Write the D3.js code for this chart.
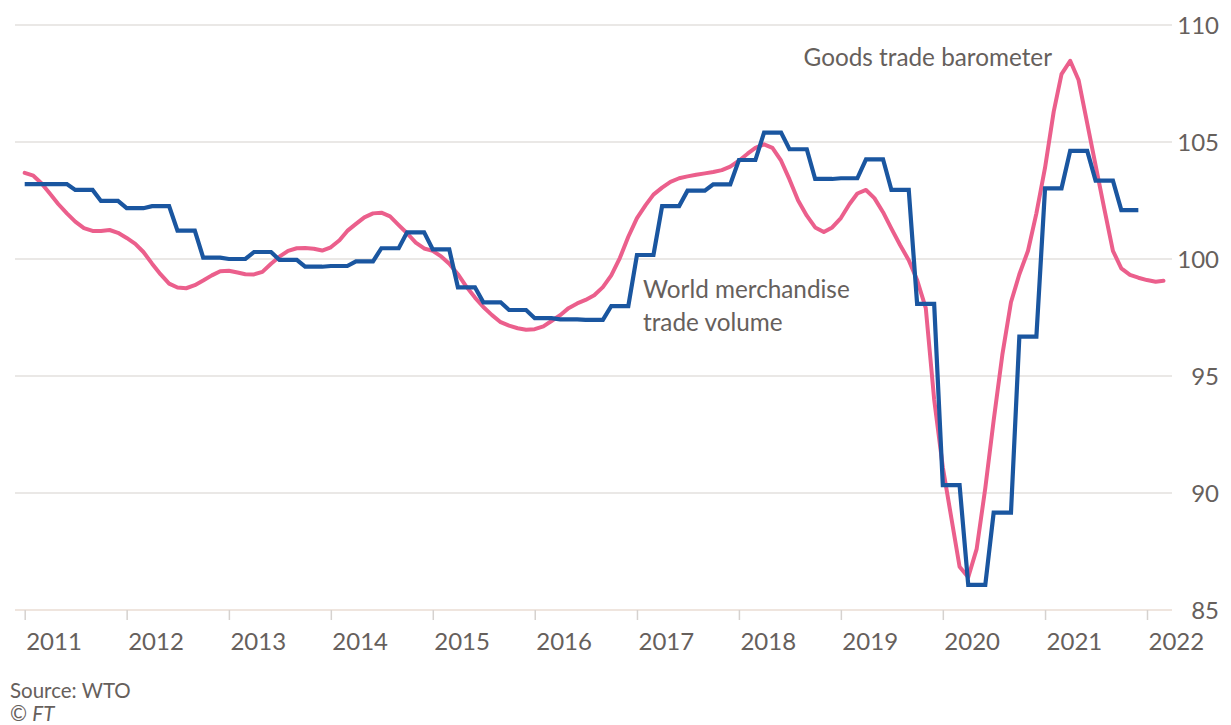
<!DOCTYPE html>
<html>
<head>
<meta charset="utf-8">
<script src="https://cdn.jsdelivr.net/npm/d3@7"></script>
<style>
  body { margin: 0; background: #fff; }
  text { font-family: Lato, "Open Sans", sans-serif; fill: #66605c; }
</style>
</head>
<body>
<script>
const width = 1231;
const height = 725;

// Goods trade barometer, monthly from Jan 2011 to Mar 2022
const barometer = [
  103.68, 103.56, 103.25, 102.8, 102.35, 101.95, 101.6, 101.32, 101.2, 101.2, 101.24, 101.12,
  100.9, 100.65, 100.3, 99.8, 99.35, 98.95, 98.78, 98.75, 98.88, 99.08, 99.3, 99.48,
  99.5, 99.42, 99.35, 99.34, 99.45, 99.8, 100.1, 100.35, 100.46, 100.47, 100.44, 100.36,
  100.5, 100.8, 101.2, 101.5, 101.78, 101.95, 101.98, 101.82, 101.45, 101.1, 100.7, 100.45,
  100.35, 100.1, 99.8, 99.35, 98.82, 98.35, 97.95, 97.6, 97.3, 97.15, 97.04, 96.98,
  97.0, 97.12, 97.35, 97.6, 97.9, 98.1, 98.25, 98.45, 98.8, 99.3, 100.05, 100.95,
  101.75, 102.3, 102.75, 103.05, 103.3, 103.45, 103.53, 103.6, 103.66, 103.72, 103.8, 103.95,
  104.2, 104.5, 104.75, 104.9, 104.75, 104.2, 103.4, 102.5, 101.85, 101.35, 101.15, 101.35,
  101.75, 102.35, 102.8, 102.95, 102.6, 102.0, 101.3, 100.6, 99.95, 99.1, 97.9, 94.0,
  91.1, 88.9, 86.85, 86.4, 87.6, 90.2, 93.1, 95.9, 98.15, 99.35, 100.35, 101.95,
  103.9, 106.3, 107.9, 108.47, 107.65, 105.8, 104.0, 102.15, 100.35, 99.6, 99.32, 99.2,
  99.1, 99.03, 99.07
];

// World merchandise trade volume, quarterly from 2011 Q1 to 2021 Q4
const tradeVolume = [
  103.2, 103.2, 102.95, 102.48,
  102.17, 102.26, 101.21, 100.06,
  100.0, 100.3, 99.96, 99.67,
  99.7, 99.9, 100.46, 101.14,
  100.41, 98.79, 98.15, 97.82,
  97.47, 97.42, 97.4, 97.99,
  100.17, 102.26, 102.92, 103.19,
  104.23, 105.4, 104.69, 103.42,
  103.45, 104.26, 102.95, 98.08,
  90.34, 86.07, 89.16, 96.68,
  103.02, 104.62, 103.35, 102.09
];

const yearTicks = d3.range(2011, 2023);
const valueTicks = [85, 90, 95, 100, 105, 110];

const startYear = 2011;

const x = d3.scaleTime()
  .domain([new Date(2011, 0, 1), new Date(2022, 0, 1)])
  .range([24.7, 1147]);

const y = d3.scaleLinear()
  .domain([85, 110])
  .range([610, 25]);

const svg = d3.select('body').append('svg')
  .attr('width', width)
  .attr('height', height);

// gridlines
svg.append('g')
  .selectAll('line')
  .data(valueTicks)
  .join('line')
  .attr('x1', 15)
  .attr('x2', 1172)
  .attr('y1', d => y(d))
  .attr('y2', d => y(d))
  .attr('stroke', d => d === 85 ? '#eadcd3' : '#e3e0de')
  .attr('stroke-width', 1.5);

// right value axis
const yAxis = svg.append('g')
  .attr('transform', 'translate(1219,0)')
  .call(d3.axisRight(y).tickValues(valueTicks).tickSize(0).tickPadding(0));
yAxis.select('.domain').remove();
yAxis.selectAll('text')
  .attr('text-anchor', 'end')
  .attr('dy', '0.35em')
  .style('font-size', '24px')
  .style('font-family', 'Lato, sans-serif')
  .attr('fill', '#66605c');

// bottom year axis
const xAxis = svg.append('g')
  .attr('transform', `translate(0,${y(85)})`)
  .call(d3.axisBottom(x)
    .tickValues(yearTicks.map(yr => new Date(yr, 0, 1)))
    .tickFormat(d3.timeFormat('%Y'))
    .tickSize(10)
    .tickPadding(13));
xAxis.select('.domain').remove();
xAxis.selectAll('line').attr('stroke', '#d6d2cf').attr('stroke-width', 1.5);
xAxis.selectAll('text')
  .attr('text-anchor', 'start')
  .attr('x', 1)
  .style('font-size', '24px')
  .style('font-family', 'Lato, sans-serif')
  .attr('fill', '#66605c');

// series
const baroPoints = barometer.map((v, i) => ({ date: new Date(startYear, i, 1), value: v }));

const volPoints = [];
tradeVolume.forEach((v, q) => {
  volPoints.push({ date: new Date(startYear, q * 3, 1), value: v });
  volPoints.push({ date: new Date(startYear, q * 3 + 2, 1), value: v });
});

const line = d3.line()
  .x(d => x(d.date))
  .y(d => y(d.value));

svg.append('path')
  .datum(baroPoints)
  .attr('d', line)
  .attr('fill', 'none')
  .attr('stroke', '#eb5f8c')
  .attr('stroke-width', 4)
  .attr('stroke-linejoin', 'round')
  .attr('stroke-linecap', 'round');

svg.append('path')
  .datum(volPoints)
  .attr('d', line)
  .attr('fill', 'none')
  .attr('stroke', '#1a56a0')
  .attr('stroke-width', 4.2)
  .attr('stroke-linejoin', 'miter');

// annotations
svg.append('text')
  .attr('x', 1052)
  .attr('y', 66)
  .attr('text-anchor', 'end')
  .style('font-size', '24.3px')
  .text('Goods trade barometer');

const volLabel = svg.append('text')
  .attr('x', 643)
  .attr('y', 298)
  .style('font-size', '24.3px');
volLabel.append('tspan').attr('x', 643).text('World merchandise');
volLabel.append('tspan').attr('x', 643).attr('dy', 33).text('trade volume');

// source
svg.append('text')
  .attr('x', 10)
  .attr('y', 698)
  .style('font-size', '20.5px')
  .text('Source: WTO');

const ft = svg.append('text')
  .attr('x', 10)
  .attr('y', 721)
  .style('font-size', '20.5px');
ft.append('tspan').text('© ');
ft.append('tspan').style('font-style', 'italic').text('FT');
</script>
</body>
</html>
